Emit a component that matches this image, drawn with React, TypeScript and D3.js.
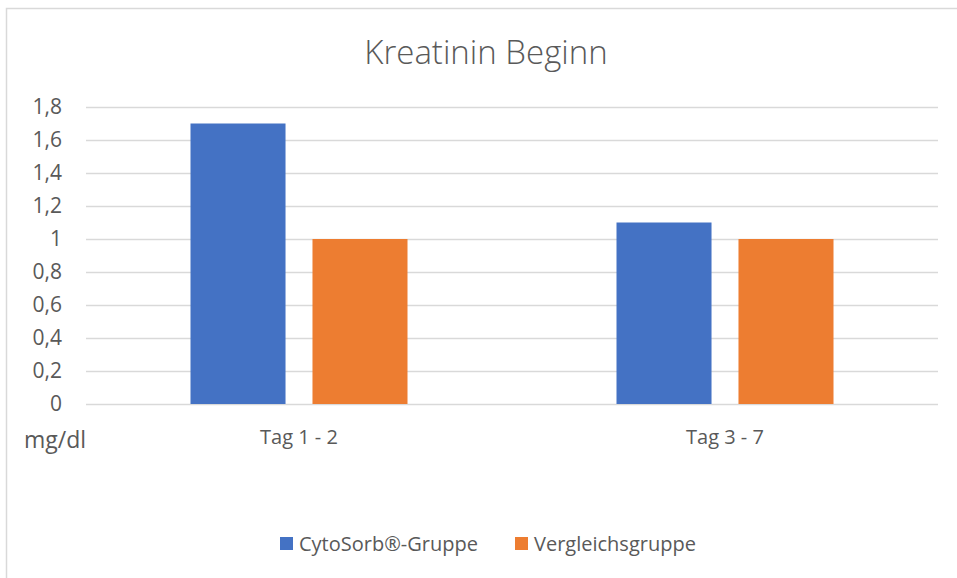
import React, { useEffect, useRef } from "react";
import { axisLeft, scaleBand, scaleLinear, select } from "d3";

const categories = ["Tag 1 - 2", "Tag 3 - 7"];
const seriesNames = ["CytoSorb®-Gruppe", "Vergleichsgruppe"];
const cytoSorb = [1.7, 1.1];
const vergleich = [1.0, 1.0];
const yTicks = [0, 0.2, 0.4, 0.6, 0.8, 1, 1.2, 1.4, 1.6, 1.8];
const colors = ["#4472C4", "#ED7D31"];

const W = 957;
const H = 578;
const margin = { top: 107, right: 19, bottom: 174, left: 86 };
const font = "'Open Sans', 'DejaVu Sans', sans-serif";

function AxisLeft({ scale, width }) {
  const ref = useRef(null);

  useEffect(() => {
    if (ref.current) {
      const g = select(ref.current);
      g.call(
        axisLeft(scale)
          .tickValues(yTicks)
          .tickSize(-width)
          .tickPadding(24)
          .tickFormat((d) => String(d).replace(".", ","))
      );
      g.select(".domain").remove();
      g.selectAll(".tick line").attr("stroke", "#d9d9d9").attr("stroke-width", 1.5);
      g.selectAll(".tick text")
        .attr("fill", "#595959")
        .style("font-size", "21px")
        .style("font-family", font);
    }
  }, [scale, width]);

  return <g ref={ref} />;
}

export default function App() {
  const width = W - margin.left - margin.right;
  const height = H - margin.top - margin.bottom;

  const x0 = scaleBand().domain(categories).range([0, width]).padding(0);
  const bw = x0.bandwidth();
  const x1 = scaleBand()
    .domain(seriesNames)
    .range([bw / 2 - 108.5, bw / 2 + 108.5])
    .paddingInner(0.221)
    .paddingOuter(0);
  const y = scaleLinear().domain([0, 1.8]).range([height, 0]);

  const rows = categories.map((c, i) => ({
    category: c,
    values: [cytoSorb[i], vergleich[i]],
  }));

  return (
    <svg
      width={W}
      height={H}
      style={{ position: "absolute", left: 0, top: 0, background: "#fff" }}
    >
      <rect x={6.5} y={8.5} width={W + 10} height={H + 10} fill="#fff" stroke="#d9d9d9" strokeWidth={1.5} />
      <text
        x={486}
        y={64}
        textAnchor="middle"
        fill="#595959"
        style={{ fontFamily: font, fontSize: 33, fontWeight: 300 }}
      >
        Kreatinin Beginn
      </text>
      <g transform={`translate(${margin.left}, ${margin.top})`}>
        <AxisLeft scale={y} width={width} />
        {rows.map((r) => (
          <g key={r.category} transform={`translate(${x0(r.category)}, 0)`}>
            {r.values.map((v, j) => (
              <rect
                key={seriesNames[j]}
                x={x1(seriesNames[j])}
                y={y(v)}
                width={x1.bandwidth()}
                height={height - y(v)}
                fill={colors[j]}
              />
            ))}
            <text
              x={bw / 2}
              y={height + 40}
              textAnchor="middle"
              fill="#595959"
              style={{ fontFamily: font, fontSize: 20 }}
            >
              {r.category}
            </text>
          </g>
        ))}
      </g>
      <text x={24} y={448} fill="#595959" style={{ fontFamily: font, fontSize: 23 }}>
        mg/dl
      </text>
      <g transform="translate(280, 537)">
        {seriesNames.map((s, i) => (
          <g key={s} transform={`translate(${i * 235}, 0)`}>
            <rect x={0} y={0} width={13} height={13} fill={colors[i]} />
            <text x={19} y={14} fill="#595959" style={{ fontFamily: font, fontSize: 20 }}>
              {s}
            </text>
          </g>
        ))}
      </g>
    </svg>
  );
}
